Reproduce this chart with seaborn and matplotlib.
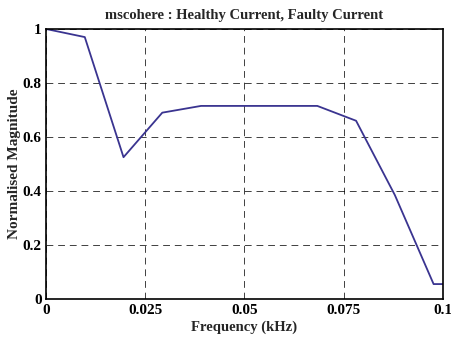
import matplotlib
matplotlib.use("Agg")
import matplotlib.pyplot as plt
import seaborn as sns
import pandas as pd

# Coherence estimate between healthy and faulty current signals
freq_khz = [0.0, 0.00977, 0.01953, 0.0293, 0.03906, 0.04883, 0.05859,
            0.06836, 0.07813, 0.08789, 0.09766, 0.10742]
coherence = [1.0, 0.97, 0.525, 0.69, 0.715, 0.715, 0.715,
             0.715, 0.66, 0.385, 0.055, 0.055]
x_ticks = [0, 0.025, 0.05, 0.075, 0.1]
x_tick_labels = ["0", "0.025", "0.05", "0.075", "0.1"]
y_ticks = [0, 0.2, 0.4, 0.6, 0.8, 1.0]
y_tick_labels = ["0", "0.2", "0.4", "0.6", "0.8", "1"]

sns.set_theme(style="white")
plt.rcParams["font.family"] = ["Liberation Serif", "DejaVu Serif"]
plt.rcParams["font.weight"] = "bold"

df = pd.DataFrame({"f": freq_khz, "c": coherence})

fig = plt.figure(figsize=(4.51, 3.37), dpi=100)
ax = fig.add_axes([0.102, 0.113, 0.880, 0.801])
sns.lineplot(data=df, x="f", y="c", ax=ax, color="#3a3490", linewidth=1.3)

ax.set_xlim(0, 0.1)
ax.set_ylim(0, 1)
ax.set_xticks(x_ticks)
ax.set_xticklabels(x_tick_labels, fontsize=11, fontweight="bold")
ax.set_yticks(y_ticks)
ax.set_yticklabels(y_tick_labels, fontsize=11, fontweight="bold")
ax.tick_params(axis="x", direction="in", length=2, width=0.6, pad=4, colors="black")
ax.tick_params(axis="y", direction="in", length=2, width=0.6, pad=3, colors="black")
ax.grid(True, color="black", linestyle=(0, (7, 5)), linewidth=0.7, alpha=0.75)

for s in ax.spines.values():
    s.set_color("black")
    s.set_linewidth(1.2)

ax.set_xlabel("Frequency (kHz)", fontsize=10.5, fontweight="bold", labelpad=2)
ax.set_ylabel("Normalised Magnitude", fontsize=11, fontweight="bold", labelpad=1)
ax.set_title("mscohere : Healthy Current, Faulty Current", fontsize=10.5,
             fontweight="bold", pad=7)

fig.savefig("out.png", dpi=100)
